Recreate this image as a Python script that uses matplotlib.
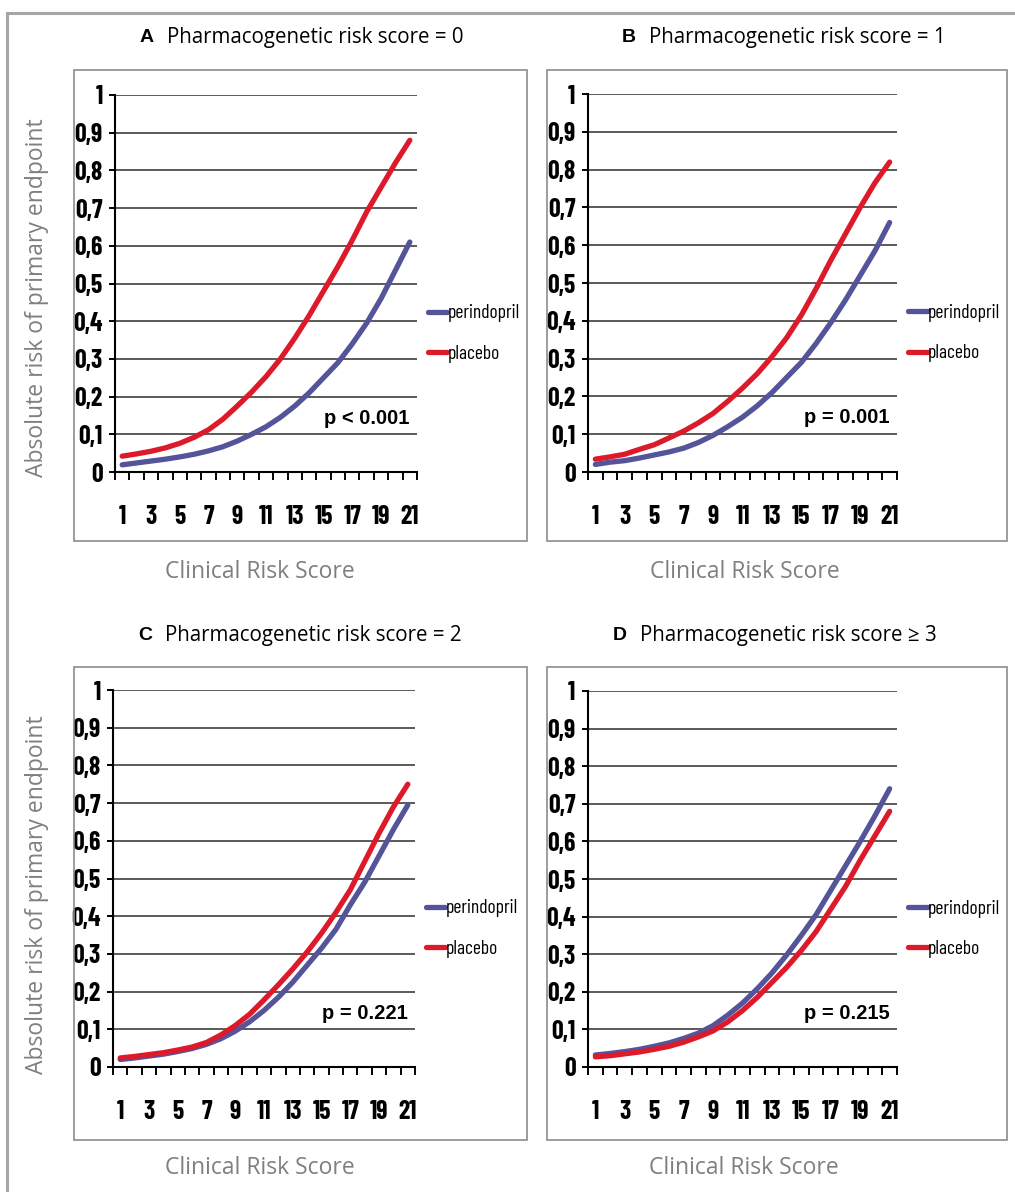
import matplotlib
matplotlib.use("Agg")
import matplotlib.pyplot as plt
from matplotlib.patches import Rectangle
from matplotlib.ticker import FuncFormatter
import numpy as np

W, H = 1015, 1192

# --- data ---
clinical_score = list(range(1, 22))
odd_scores = list(range(1, 22, 2))
y_ticks = [0, 0.1, 0.2, 0.3, 0.4, 0.5, 0.6, 0.7, 0.8, 0.9, 1]

perindopril_a = [0.019, 0.024, 0.029, 0.034, 0.040, 0.047, 0.056, 0.067, 0.082, 0.10, 0.12,
                 0.145, 0.175, 0.21, 0.25, 0.29, 0.34, 0.395, 0.46, 0.535, 0.61]
placebo_a = [0.042, 0.048, 0.055, 0.064, 0.076, 0.092, 0.112, 0.14, 0.175, 0.212, 0.253,
             0.30, 0.355, 0.415, 0.48, 0.545, 0.615, 0.69, 0.755, 0.82, 0.88]

perindopril_b = [0.02, 0.026, 0.03, 0.037, 0.045, 0.053, 0.063, 0.078, 0.097, 0.12, 0.145,
                 0.175, 0.21, 0.25, 0.29, 0.34, 0.395, 0.455, 0.52, 0.585, 0.66]
placebo_b = [0.034, 0.040, 0.047, 0.060, 0.072, 0.090, 0.108, 0.13, 0.155, 0.187, 0.222,
             0.26, 0.305, 0.355, 0.415, 0.485, 0.56, 0.63, 0.70, 0.765, 0.82]

perindopril_c = [0.02, 0.024, 0.029, 0.034, 0.041, 0.049, 0.06, 0.075, 0.095, 0.12, 0.15,
                 0.185, 0.225, 0.27, 0.315, 0.365, 0.43, 0.49, 0.56, 0.63, 0.695]
placebo_c = [0.024, 0.028, 0.033, 0.038, 0.045, 0.053, 0.065, 0.085, 0.11, 0.14, 0.178,
             0.218, 0.26, 0.305, 0.355, 0.41, 0.47, 0.545, 0.62, 0.69, 0.75]

perindopril_d = [0.032, 0.036, 0.041, 0.047, 0.055, 0.064, 0.076, 0.09, 0.11, 0.138, 0.17,
                 0.208, 0.25, 0.298, 0.35, 0.405, 0.47, 0.535, 0.60, 0.668, 0.74]
placebo_d = [0.027, 0.03, 0.035, 0.04, 0.047, 0.055, 0.066, 0.08, 0.096, 0.12, 0.15,
             0.185, 0.225, 0.265, 0.31, 0.36, 0.42, 0.48, 0.55, 0.615, 0.68]

panel_letters = ["A", "B", "C", "D"]
panel_titles = ["Pharmacogenetic risk score = 0", "Pharmacogenetic risk score = 1",
                "Pharmacogenetic risk score = 2", "Pharmacogenetic risk score \u2265 3"]
p_values = ["p < 0.001", "p = 0.001", "p = 0.221", "p = 0.215"]
perindopril = [perindopril_a, perindopril_b, perindopril_c, perindopril_d]
placebo = [placebo_a, placebo_b, placebo_c, placebo_d]

# --- layout in pixels ---
# plot area (left, top, right, bottom), frame box, title letter x/y, xlabel centre
plot_px = [(115, 95, 417, 472), (588, 94, 897, 472), (113, 690, 415, 1067), (588, 691, 897, 1067)]
box_px = [(74, 70, 527, 541), (547, 70, 1007, 541), (74, 667, 527, 1140), (547, 667, 1007, 1140)]
title_px = [(140, 38), (622, 38), (138, 635), (613, 635)]
xlabel_px = [(260, 572), (745, 572), (260, 1168), (744, 1168)]

BLUE = "#54549a"
RED = "#dc1a2a"
GRAY_TXT = "#7f7f7f"
NARROW = ["Barlow Condensed", "Archivo Narrow", "DejaVu Sans"]
BODY = ["Open Sans", "DejaVu Sans"]
ARIAL = ["Liberation Sans", "DejaVu Sans"]

fig = plt.figure(figsize=(W / 100, H / 100), dpi=100)
fig.patch.set_facecolor("white")

# outer frame (only top/left visible in the crop)
fig.add_artist(Rectangle((7 / W, -0.1), 1.2, 1.1 - 13 / H, transform=fig.transFigure,
                         fill=False, ec="#a6a6a6", lw=2.2))

comma_fmt = FuncFormatter(lambda v, pos: f"{v:g}".replace(".", ","))

for i in range(4):
    l, t, r, b = plot_px[i]
    ax = fig.add_axes([l / W, 1 - b / H, (r - l) / W, (b - t) / H])

    bl, bt, br, bb = box_px[i]
    fig.add_artist(Rectangle((bl / W, 1 - bb / H), (br - bl) / W, (bb - bt) / H,
                             transform=fig.transFigure, fill=False, ec="#8c8c8c", lw=1.2))

    ax.plot(clinical_score, perindopril[i], color=BLUE, lw=3.8, solid_capstyle="round",
            label="perindopril", zorder=3)
    ax.plot(clinical_score, placebo[i], color=RED, lw=3.8, solid_capstyle="round",
            label="placebo", zorder=4)

    ax.set_xlim(0.5, 21.5)
    ax.set_ylim(0, 1)
    ax.set_yticks(y_ticks)
    ax.yaxis.set_major_formatter(comma_fmt)
    ax.set_xticks(np.arange(0.5, 22, 1))
    ax.set_xticklabels([])
    ax.set_xticks(odd_scores, minor=True)
    ax.set_xticklabels([str(k) for k in odd_scores], minor=True)
    ax.tick_params(axis="x", which="major", direction="out", length=6, width=1.4, color="black")
    ax.tick_params(axis="x", which="minor", length=0, pad=24)
    ax.tick_params(axis="y", direction="out", length=4, width=1.4, pad=5)
    for lab in ax.get_xticklabels(minor=True) + ax.get_yticklabels():
        lab.set_family(NARROW)
        lab.set_fontweight("bold")
        lab.set_fontsize(18.5)

    ax.yaxis.grid(True, color="#5a5a5a", lw=1.4)
    for s in ("top", "right"):
        ax.spines[s].set_visible(False)
    for s in ("left", "bottom"):
        ax.spines[s].set_linewidth(1.5)
        ax.spines[s].set_color("black")
    ax.set_facecolor("none")

    ax.text(0.975, 0.143, p_values[i], transform=ax.transAxes, ha="right", va="center",
            fontsize=14.5, fontweight="bold", family=ARIAL)

    ax.legend(loc="center left", bbox_to_anchor=(1.036, 0.367), frameon=False,
              handlelength=1.0, handletextpad=0.0, labelspacing=1.15, borderaxespad=0.0,
              borderpad=0.0, prop={"family": NARROW, "size": 14})

    tx, ty = title_px[i]
    fig.text(tx / W, 1 - ty / H, panel_letters[i], ha="left", va="center", fontsize=14,
             fontweight="bold", family=ARIAL)
    fig.text((tx + 27) / W, 1 - ty / H, panel_titles[i], ha="left", va="center",
             fontsize=14.8, family=BODY)

    cx, cy = xlabel_px[i]
    fig.text(cx / W, 1 - cy / H, "Clinical Risk Score", ha="center", va="center",
             fontsize=16.5, color=GRAY_TXT, family=BODY)

for cy in (298, 895):
    fig.text(37 / W, 1 - cy / H, "Absolute risk of primary endpoint", rotation=90,
             ha="center", va="center", fontsize=16.5, color=GRAY_TXT, family=BODY)

fig.savefig("out.png", dpi=100, facecolor="white")
